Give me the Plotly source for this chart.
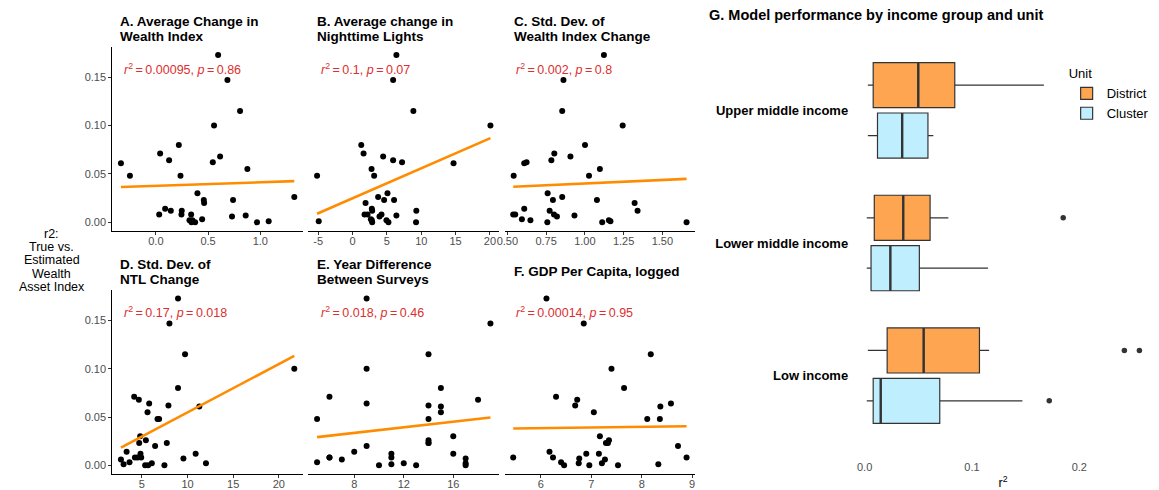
import numpy as np
import plotly.graph_objects as go

# ---------------- data ----------------
r2_true = [0.173, 0.147, 0.115, 0.100, 0.080, 0.071, 0.068, 0.064, 0.062, 0.061, 0.055,
           0.048, 0.048, 0.030, 0.026, 0.023, 0.023, 0.020, 0.014, 0.012, 0.012, 0.008,
           0.008, 0.008, 0.007, 0.006, 0.003, 0.002, 0.002, 0.001, 0.000, 0.000, 0.000]

avg_wealth_change = [0.596, 0.685, 0.806, 0.557, 0.220, 0.041, 0.615, 0.127, 0.545, -0.334, 0.876,
                     -0.248, 0.236, 0.398, 1.325, 0.459, 0.739, 0.462, 0.089, 0.143, 0.248, 0.032,
                     0.245, 0.338, 0.860, 0.729, 0.443, 0.322, 0.350, 1.080, 0.341, 0.376, 0.968]
avg_ntl_change = [6.38, 5.90, 8.85, 20.07, 1.26, 1.60, 4.45, 5.90, 7.20, 14.70, 2.76,
                  -5.17, 3.14, 5.08, 3.72, 4.59, 6.04, 1.89, 2.80, 2.85, 9.28, 1.74,
                  2.18, 4.21, 6.38, 3.92, 2.66, 4.93, 2.80, -4.93, 2.85, 5.22, 9.24]
sd_wealth_change = [1.123, 0.862, 0.854, 1.244, 1.001, 0.803, 0.907, 0.784, 0.624, 0.609, 1.097,
                    0.541, 1.027, 0.760, 0.854, 0.794, 1.078, 1.321, 0.609, 0.773, 1.340, 0.538,
                    0.551, 0.801, 0.933, 0.820, 0.594, 0.649, 1.155, 1.165, 0.758, 1.112, 1.656]
sd_ntl_change = [8.96, 8.02, 9.73, 21.69, 8.96, 4.16, 4.67, 5.80, 7.91, 11.29, 5.62,
                 6.71, 6.89, 4.82, 5.44, 4.71, 7.73, 6.45, 3.33, 4.85, 10.89, 4.24,
                 4.53, 4.93, 9.55, 2.71, 3.65, 6.09, 12.02, 3.00, 5.36, 5.69, 7.47]
year_diff = [9, 19, 14, 9, 15, 6, 18, 9, 14, 15, 15,
             5, 14, 16, 14, 14, 14, 9, 8, 11, 16, 6,
             11, 6, 17, 7, 5, 12, 17, 11, 10, 13, 17]
gdp_pc_log = [6.11, 6.85, 8.18, 7.40, 7.65, 6.30, 6.72, 8.58, 6.68, 8.37, 7.05,
              8.11, 8.36, 7.17, 7.35, 7.33, 7.29, 8.72, 6.17, 6.90, 7.15, 6.24,
              5.45, 8.89, 6.76, 7.27, 6.40, 6.75, 7.21, 8.33, 6.46, 6.96, 7.53]

panel_titles = [["A. Average Change in", "Wealth Index"],
                ["B. Average change in", "Nighttime Lights"],
                ["C. Std. Dev. of", "Wealth Index Change"],
                ["D. Std. Dev. of", "NTL Change"],
                ["E. Year Difference", "Between Surveys"],
                ["F. GDP Per Capita, logged"]]
stat_r2 = ["0.00095", "0.1", "0.002", "0.17", "0.018", "0.00014"]
stat_p = ["0.86", "0.07", "0.8", "0.018", "0.46", "0.95"]

x_tickvals = [[0.0, 0.5, 1.0], [-5, 0, 5, 10, 15, 20], [0.50, 0.75, 1.00, 1.25, 1.50],
              [5, 10, 15, 20], [8, 12, 16], [6, 7, 8, 9]]
x_ticktext = [["0.0", "0.5", "1.0"], ["-5", "0", "5", "10", "15", "20"],
              ["0.50", "0.75", "1.00", "1.25", "1.50"], ["5", "10", "15", "20"],
              ["8", "12", "16"], ["6", "7", "8", "9"]]
y_tickvals = [0.00, 0.05, 0.10, 0.15]
y_ticktext = ["0.00", "0.05", "0.10", "0.15"]

# Panel G: box statistics
income_groups = ["Low income", "Lower middle income", "Upper middle income"]
units = ["District", "Cluster"]
district_lowerfence = [0.003, 0.002, 0.003]
district_q1 = [0.021, 0.009, 0.008]
district_median = [0.055, 0.036, 0.050]
district_q3 = [0.107, 0.061, 0.084]
district_upperfence = [0.116, 0.078, 0.167]
district_outliers = [[0.242, 0.256], [0.185], []]
cluster_lowerfence = [0.002, 0.002, 0.003]
cluster_q1 = [0.008, 0.006, 0.012]
cluster_median = [0.015, 0.024, 0.035]
cluster_q3 = [0.070, 0.051, 0.059]
cluster_upperfence = [0.147, 0.115, 0.064]
cluster_outliers = [[0.172], [], []]

# ---------------- styling ----------------
W, H = 1159, 490
FONT = "Liberation Sans, Arial, Helvetica, sans-serif"
ORANGE_LINE = "#FF8C00"
RED = "#DC2F2F"
DISTRICT_FILL = "#FDA550"
CLUSTER_FILL = "#BFEFFF"
OUTLINE = "#333333"


def px(x):
    return x / W


def py(y):
    return 1 - y / H


col_domains = [(105, 297), (302.5, 494.5), (500, 692)]
row_domains = [(47, 232.5), (292.5, 477.5)]

xs_all = [avg_wealth_change, avg_ntl_change, sd_wealth_change,
          sd_ntl_change, year_diff, gdp_pc_log]

fig = go.Figure()
layout = dict()
annotations = []

y_arr = np.array(r2_true)
ymin, ymax = y_arr.min(), y_arr.max()
ypad = 0.05 * (ymax - ymin)
y_range = [ymin - ypad, ymax + ypad]

for i, xv in enumerate(xs_all):
    r, c = divmod(i, 3)
    k = i + 1
    xa = "x" if k == 1 else f"x{k}"
    ya = "y" if k == 1 else f"y{k}"
    x_arr = np.array(xv, dtype=float)
    xpad = 0.05 * (x_arr.max() - x_arr.min())
    x_range = [x_arr.min() - xpad, x_arr.max() + xpad]

    fig.add_trace(go.Scatter(x=x_arr, y=y_arr, mode="markers", xaxis=xa, yaxis=ya,
                             marker=dict(color="black", size=6), showlegend=False,
                             hoverinfo="skip"))
    slope, intercept = np.polyfit(x_arr, y_arr, 1)
    xl = np.array([x_arr.min(), x_arr.max()])
    fig.add_trace(go.Scatter(x=xl, y=intercept + slope * xl, mode="lines", xaxis=xa, yaxis=ya,
                             line=dict(color=ORANGE_LINE, width=2.6), showlegend=False,
                             hoverinfo="skip"))

    c0, c1 = col_domains[c]
    r0, r1 = row_domains[r]
    layout["xaxis" if k == 1 else f"xaxis{k}"] = dict(
        domain=[px(c0), px(c1)], anchor=ya, range=x_range,
        tickvals=x_tickvals[i], ticktext=x_ticktext[i],
        showgrid=False, zeroline=False, showline=True, linecolor="black", linewidth=1,
        ticks="outside", ticklen=3, tickcolor="#333333", tickwidth=1,
        ticklabelstandoff=-3,
        tickfont=dict(family=FONT, size=11, color="#4D4D4D"))
    left = (c == 0)
    ycfg = dict(domain=[py(r1), py(r0)], anchor=xa, range=y_range,
                showgrid=False, zeroline=False, showline=left, linecolor="black", linewidth=1,
                showticklabels=left)
    if left:
        ycfg.update(tickvals=y_tickvals, ticktext=y_ticktext, ticks="outside", ticklen=3,
                    tickcolor="#333333", tickwidth=1,
                    tickfont=dict(family=FONT, size=11, color="#4D4D4D"))
    else:
        ycfg.update(ticks="", showticklabels=False)
    layout["yaxis" if k == 1 else f"yaxis{k}"] = ycfg

    # panel title
    tx = [111, 309, 507][c]
    if len(panel_titles[i]) == 2:
        ty = [[22, 36.5], [267, 281.5]][r]
    else:
        ty = [[29], [274]][r]
    for line, yy in zip(panel_titles[i], ty):
        annotations.append(dict(text=f"<b>{line}</b>", x=px(tx), y=py(yy), xref="paper", yref="paper",
                                xanchor="left", yanchor="middle", showarrow=False,
                                font=dict(family=FONT, size=13.5, color="black")))
    # stats label
    sx = [115, 313, 510][c]
    sy = [70, 315][r]
    annotations.append(dict(
        text=f"<i>r</i><sup>2</sup>\u2009=\u2009{stat_r2[i]}, <i>p</i>\u2009=\u2009{stat_p[i]}",
        x=px(sx), y=py(sy), xref="paper", yref="paper", xanchor="left", yanchor="middle",
        showarrow=False, font=dict(family=FONT, size=12.5, color=RED)))

# left shared y label
for line, yy in zip(["r2:", "True vs.", "Estimated", "Wealth", "Asset Index"],
                    [235.5, 249, 262.5, 276, 289.5]):
    annotations.append(dict(text=line, x=px(44), y=py(yy), xref="paper", yref="paper",
                            xanchor="center", yanchor="middle", showarrow=False,
                            font=dict(family=FONT, size=12.5, color="black")))

# ---------------- Panel G ----------------
pos = np.arange(1, len(income_groups) + 1, dtype=float)
dodge = 0.19
bw = 0.34
stats = {
    "District": (district_lowerfence, district_q1, district_median, district_q3,
                 district_upperfence, district_outliers, DISTRICT_FILL, +dodge),
    "Cluster": (cluster_lowerfence, cluster_q1, cluster_median, cluster_q3,
                cluster_upperfence, cluster_outliers, CLUSTER_FILL, -dodge),
}
for name in units:
    lf, q1, med, q3, uf, outs, fill, off = stats[name]
    yy = pos + off
    fig.add_trace(go.Box(y=yy, q1=q1, median=med, q3=q3, lowerfence=lf, upperfence=uf,
                         orientation="h", name=name, width=bw, fillcolor=fill,
                         line=dict(color=OUTLINE, width=1.2), whiskerwidth=0,
                         boxpoints=False, xaxis="x7", yaxis="y7", hoverinfo="skip",
                         legendgroup=name))
    # thicker median lines
    mx, my = [], []
    for m, p in zip(med, yy):
        mx += [m, m, None]
        my += [p - bw / 2, p + bw / 2, None]
    fig.add_trace(go.Scatter(x=mx, y=my, mode="lines", line=dict(color=OUTLINE, width=2.4),
                             xaxis="x7", yaxis="y7", showlegend=False, hoverinfo="skip"))
    ox, oy = [], []
    for o, p in zip(outs, yy):
        ox += o
        oy += [p] * len(o)
    fig.add_trace(go.Scatter(x=ox, y=oy, mode="markers", marker=dict(color=OUTLINE, size=5.5),
                             xaxis="x7", yaxis="y7", showlegend=False, hoverinfo="skip"))

all_g = (district_lowerfence + district_upperfence + cluster_lowerfence + cluster_upperfence
         + sum(district_outliers, []) + sum(cluster_outliers, []))
gmin, gmax = min(all_g), max(all_g)
gpad = 0.05 * (gmax - gmin)

layout["xaxis7"] = dict(domain=[px(851), px(1153)], anchor="y7", range=[gmin - gpad, gmax + gpad],
                        tickvals=[0.0, 0.1, 0.2], ticktext=["0.0", "0.1", "0.2"],
                        showgrid=False, zeroline=False, showline=False, ticks="",
                        ticklabelstandoff=4,
                        tickfont=dict(family=FONT, size=11, color="#4D4D4D"),
                        title=dict(text="r<sup>2</sup>", font=dict(family=FONT, size=12.5, color="black"),
                                   standoff=6))
layout["yaxis7"] = dict(domain=[py(459), py(31)], anchor="x7",
                        range=[pos[0] - 0.6, pos[-1] + 0.6],
                        tickvals=pos, ticktext=income_groups,
                        showgrid=False, zeroline=False, showline=False, ticks="",
                        ticklabelstandoff=4,
                        tickfont=dict(family=FONT, size=13, color="black", weight="bold"))

annotations.append(dict(text="<b>G. Model performance by income group and unit</b>",
                        x=px(704), y=py(15), xref="paper", yref="paper",
                        xanchor="left", yanchor="middle", showarrow=False,
                        font=dict(family=FONT, size=14.5, color="black")))

fig.update_layout(
    width=W, height=H, autosize=False,
    margin=dict(l=0, r=0, t=0, b=0),
    paper_bgcolor="white", plot_bgcolor="white",
    font=dict(family=FONT),
    boxmode="overlay",
    showlegend=True,
    legend=dict(x=px(1066), y=py(62), xanchor="left", yanchor="top",
                title=dict(text="Unit", font=dict(family=FONT, size=13, color="black")),
                font=dict(family=FONT, size=13, color="black"),
                bgcolor="rgba(0,0,0,0)", tracegroupgap=0, itemwidth=30),
    annotations=annotations,
    **layout,
)

fig.write_html("out.html", config={"displayModeBar": False},
               post_script="document.body.style.margin='0';document.body.style.overflow='hidden';")
